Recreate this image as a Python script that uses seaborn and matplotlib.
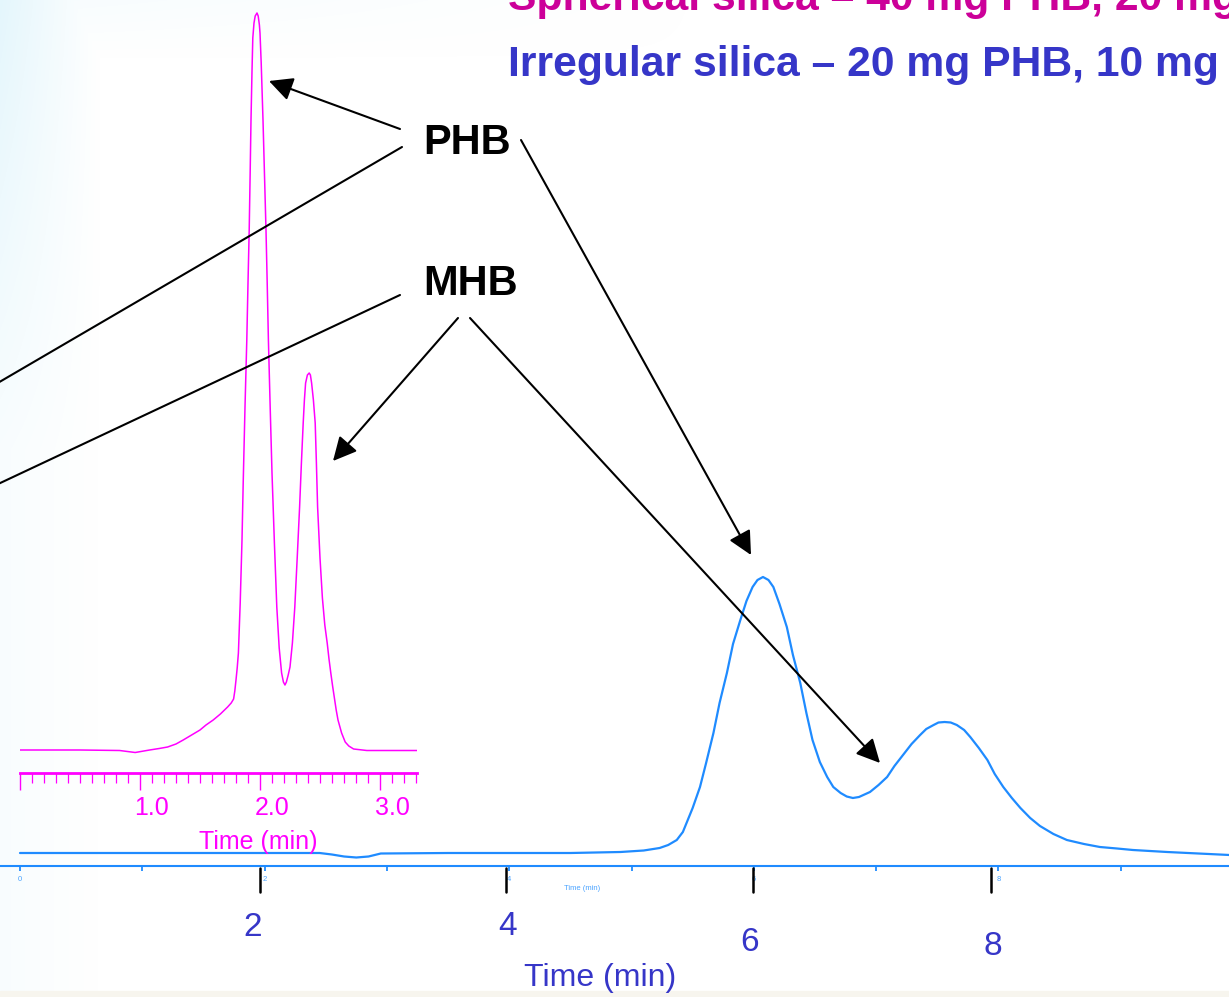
import numpy as np
import pandas as pd
import matplotlib
matplotlib.use("Agg")
import matplotlib.pyplot as plt
import seaborn as sns
from matplotlib.transforms import ScaledTranslation

# ---------------- data ----------------
# Irregular silica chromatogram (blue), time in min, detector response (a.u.)
blue_time = [0.00, 1.00, 2.00, 2.45, 2.55, 2.65, 2.75, 2.85, 2.95, 3.50, 4.00, 4.50,
             4.91, 5.10, 5.23, 5.30, 5.37, 5.42, 5.45, 5.50, 5.56, 5.61, 5.67,
             5.72, 5.78, 5.83, 5.89, 5.94, 5.99, 6.03, 6.075, 6.12, 6.16, 6.21,
             6.27, 6.32, 6.38, 6.43, 6.48, 6.54, 6.60, 6.65, 6.71, 6.76, 6.81,
             6.86, 6.95, 7.02, 7.09, 7.15, 7.22, 7.29, 7.36, 7.41, 7.47, 7.51,
             7.56, 7.61, 7.66, 7.72, 7.77, 7.84, 7.91, 7.97, 8.04, 8.11, 8.18,
             8.26, 8.34, 8.45, 8.56, 8.70, 8.83, 8.97, 9.10, 9.38, 9.89]
blue_signal = [13, 13, 13, 13, 11.5, 9.5, 8.5, 9.5, 12.5, 13, 13, 13,
               14, 15.5, 18, 21, 26, 34, 43, 58, 79, 103, 133,
               163, 193, 222, 246, 265, 279, 286, 289, 286, 279, 262,
               239, 211, 183, 153, 126, 104, 89, 79, 73, 69.5, 68,
               69, 74, 81, 89, 100, 111, 122, 131, 137, 141, 143.5,
               144, 143.5, 141, 136, 129, 118, 106, 92, 79, 68, 58,
               48, 40, 32, 26, 22, 19, 17.5, 16, 14, 11]

# Spherical silica chromatogram (magenta, inset)
mag_time = [0.00, 0.50, 0.83, 0.96, 1.08, 1.16, 1.23, 1.30, 1.36, 1.43, 1.50,
            1.55, 1.61, 1.67, 1.73, 1.76, 1.78, 1.79, 1.80, 1.81, 1.82, 1.835,
            1.85, 1.86, 1.875, 1.89, 1.90, 1.91, 1.918, 1.925, 1.933, 1.94,
            1.95, 1.96, 1.975, 1.985, 1.995, 2.00, 2.01, 2.025, 2.037, 2.05,
            2.06, 2.07, 2.085, 2.10, 2.12, 2.14, 2.16, 2.18, 2.195, 2.208,
            2.22, 2.235, 2.25, 2.27, 2.29, 2.31, 2.33, 2.345, 2.36, 2.37, 2.38,
            2.395, 2.41, 2.42, 2.43, 2.445, 2.46, 2.47, 2.48, 2.50, 2.52, 2.54,
            2.56, 2.575, 2.59, 2.605, 2.62, 2.635, 2.65, 2.68, 2.71, 2.74,
            2.78, 2.89, 3.31]
mag_signal = [23, 23, 22.5, 20.5, 23, 24.5, 26, 29, 33, 38, 43,
              48, 53, 59, 66, 70, 74, 82, 93, 105, 120, 170,
              233, 290, 366, 433, 490, 543, 600, 653, 700, 735,
              750, 757, 760, 757, 748, 740, 710, 653, 600, 543,
              490, 433, 365, 300, 230, 166, 125, 100, 91, 88,
              91, 98, 106, 130, 166, 215, 266, 310, 350, 373, 390,
              398, 400, 398, 390, 373, 350, 310, 266, 215, 175, 148,
              130, 114, 100, 87, 75, 63, 53, 40, 31, 27,
              24, 22.5, 22.5]

main_ticks = [0, 2, 4, 6, 8]
main_tick_labels = ["0", "2", "4", "6", "8"]
main_minor_ticks = [1, 3, 5, 7, 9]
inset_ticks = [0, 1, 2, 3]
inset_tick_labels = ["", "1.0", "2.0", "3.0"]
big_tick_labels = ["2", "4", "6", "8"]

title_spherical = "Spherical silica \u2013 40 mg PHB, 20 mg"
title_irregular = "Irregular silica \u2013 20 mg PHB, 10 mg"

blue_df = pd.DataFrame({"time": blue_time, "signal": blue_signal})
mag_df = pd.DataFrame({"time": mag_time, "signal": mag_signal})

# ---------------- style ----------------
sns.set_theme(style="white")
plt.rcParams["font.family"] = ["Liberation Sans", "DejaVu Sans"]

W, H = 1229, 997
fig = plt.figure(figsize=(W / 100, H / 100), dpi=100)
fig.patch.set_facecolor("white")

BLUE = "#1f8bff"
BLUE_LIGHT = "#4aa3ff"
BLUE_TEXT = "#3636c8"
MAGENTA = "#ff00ff"
MAG_TEXT = "#cc0099"

# ---- slide background gradient ----
bg = fig.add_axes([0, 0, 1, 1], zorder=0)
xx, yy = np.meshgrid(np.arange(W), np.arange(H))
alpha = np.clip(1 - xx / 100.0, 0, 1) * (0.25 + 0.75 * np.clip(1 - yy / 450.0, 0, 1))
alpha = np.maximum(alpha, np.clip(1 - yy / 60.0, 0, 1) * np.clip(1 - xx / 700.0, 0, 1) * 0.3)
img = np.ones((H, W, 4))
img[..., 0] = 0.86
img[..., 1] = 0.955
img[..., 2] = 0.985
img[..., 3] = alpha * 0.75
bg.imshow(img, extent=(0, W, H, 0), aspect="auto")
bg.axhspan(991, 997, color="#f7f5ee")
bg.set_xlim(0, W)
bg.set_ylim(H, 0)
bg.axis("off")

# ---- main (blue) axes ----
y_axis_px = 866
ax = fig.add_axes([0, (H - y_axis_px) / H, 1, y_axis_px / H], zorder=2)
ax.set_facecolor("none")
sns.lineplot(data=blue_df, x="time", y="signal", ax=ax, color=BLUE, lw=1.6,
             estimator=None, sort=False)
ax.set_xlim(-20 / 122.3, 1209 / 122.3)
ax.set_ylim(0, y_axis_px)
for s in ["left", "right", "top"]:
    ax.spines[s].set_visible(False)
ax.spines["bottom"].set_color(BLUE)
ax.spines["bottom"].set_linewidth(1.5)
ax.set_yticks([])
ax.set_xticks(main_ticks)
ax.set_xticklabels(main_tick_labels)
ax.set_xticks(main_minor_ticks, minor=True)
ax.tick_params(axis="x", which="both", direction="out", length=3.5, width=1.3,
               color=BLUE, labelsize=5.5, labelcolor=BLUE_LIGHT, pad=4,
               bottom=True)
ax.set_xlabel("Time (min)", fontsize=5.5, color=BLUE_LIGHT)
ax.xaxis.set_label_coords(582 / W, -0.022)
ax.set_ylabel("")

# ---- inset (magenta) axes ----
y_in_px = 773
ins = fig.add_axes([20 / W, (H - y_in_px) / H, 397 / W, y_in_px / H], zorder=3)
ins.set_facecolor("none")
sns.lineplot(data=mag_df, x="time", y="signal", ax=ins, color=MAGENTA, lw=1.1,
             estimator=None, sort=False)
ins.set_xlim(0, 397 / 120)
ins.set_ylim(0, y_in_px)
for s in ["left", "right", "top"]:
    ins.spines[s].set_visible(False)
ins.spines["bottom"].set_color(MAGENTA)
ins.spines["bottom"].set_linewidth(2.0)
ins.set_yticks([])
ins.set_xticks(inset_ticks)
ins.set_xticklabels(inset_tick_labels)
ins.set_xticks(np.arange(0, 3.31, 0.1), minor=True)
ins.tick_params(axis="x", which="major", direction="out", length=12.5, width=1.0,
                color=MAGENTA, labelsize=18, labelcolor=MAGENTA, pad=4, bottom=True)
ins.tick_params(axis="x", which="minor", direction="out", length=7.5, width=0.9,
                color=MAGENTA, bottom=True)
off = ScaledTranslation(12 / 100, 0, fig.dpi_scale_trans)
for lab in ins.get_xticklabels():
    lab.set_transform(lab.get_transform() + off)
ins.set_xlabel("Time (min)", fontsize=18, color=MAGENTA)
ins.xaxis.set_label_coords((258 - 20) / 397, -0.074)
ins.set_ylabel("")

# ---- overlay for slide annotations ----
ann = fig.add_axes([0, 0, 1, 1], zorder=5)
ann.set_facecolor("none")
ann.set_xlim(0, W)
ann.set_ylim(H, 0)
ann.axis("off")

ann.text(508, 10, title_spherical, color=MAG_TEXT, fontsize=30.7, fontweight="bold",
         ha="left", va="baseline", clip_on=False)
ann.text(508, 76, title_irregular, color=BLUE_TEXT, fontsize=30.7, fontweight="bold",
         ha="left", va="baseline", clip_on=False)

ann.text(423, 143, "PHB", color="black", fontsize=30, fontweight="bold",
         ha="left", va="center")
ann.text(423, 284, "MHB", color="black", fontsize=30, fontweight="bold",
         ha="left", va="center")

aprops = dict(arrowstyle="-|>,head_length=0.72,head_width=0.36", mutation_scale=20,
              color="black", lw=1.5, shrinkA=0, shrinkB=0)
ann.annotate("", xy=(269, 81), xytext=(400, 129), arrowprops=aprops)
ann.annotate("", xy=(751, 555), xytext=(521, 140), arrowprops=aprops)
ann.annotate("", xy=(333, 461), xytext=(458, 318), arrowprops=aprops)
ann.annotate("", xy=(880, 763), xytext=(470, 318), arrowprops=aprops)
ann.plot([402, -4], [147, 384], color="black", lw=1.5)
ann.plot([400, -4], [295, 485], color="black", lw=1.5)

# black slide tick marks and big axis labels
for xp in [260, 506, 753, 991]:
    ann.plot([xp, xp], [868, 892], color="black", lw=1.8)
for lab, (xp, yp) in zip(big_tick_labels, [(253, 927), (508, 926), (750, 942), (993, 946)]):
    ann.text(xp, yp, lab, color=BLUE_TEXT, fontsize=24, ha="center", va="center")
ann.text(600, 978, "Time (min)", color=BLUE_TEXT, fontsize=23, ha="center", va="center")

fig.savefig("out.png", dpi=100)
